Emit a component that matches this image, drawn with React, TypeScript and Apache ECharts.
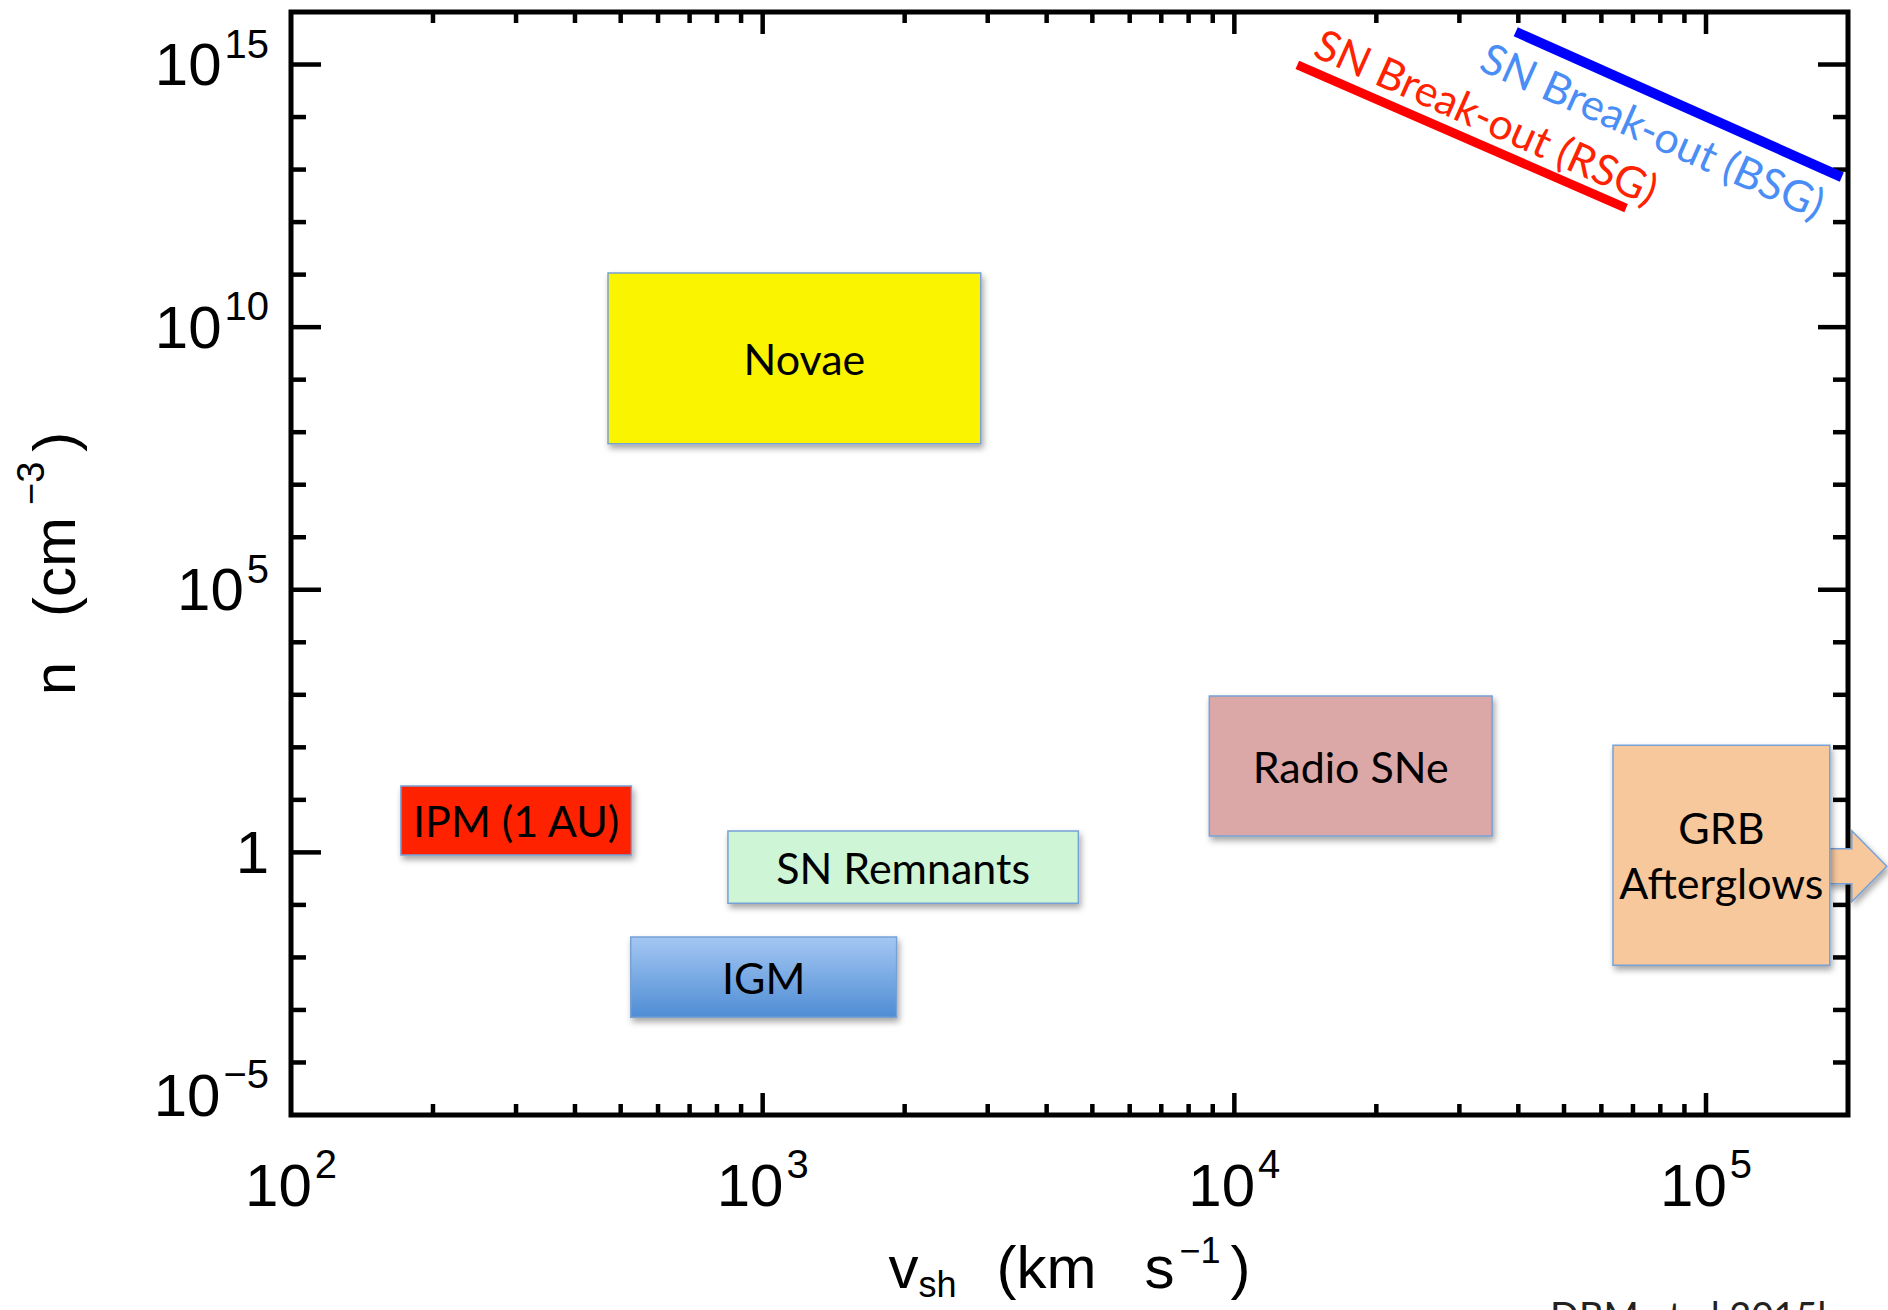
import React, { useEffect, useRef } from 'react';
import * as echarts from 'echarts';

// ---- Data ----
const boxNames = ['Novae', 'IPM (1 AU)', 'SN Remnants', 'IGM', 'Radio SNe', 'GRB\nAfterglows'];
const boxVelMin = [470, 171, 844, 525, 8850, 63500];
const boxVelMax = [2900, 527, 4670, 1923, 35200, 183000];
const boxDenMin = [6.0e7, 0.89, 0.108, 7.3e-4, 2.05, 7.1e-3];
const boxDenMax = [1.07e11, 18.3, 2.55, 0.0244, 946, 110];
const boxColors = ['#fbf400', '#ff2300', '#cdf5d6', '#74a9e6', '#dca7a7', '#f8c89d'];
const boxHasArrow = [false, false, false, false, false, true];

const rsgVel = [13600, 67700];
const rsgDen = [9.8e14, 1.85e12];
const bsgVel = [39500, 194000];
const bsgDen = [4.2e15, 7.2e12];

const lineLabels = ['SN Break-out (RSG)', 'SN Break-out (BSG)'];
const lineLabelVel = [34300, 77300];
const lineLabelDen = [1.05e14, 5.7e13];
const lineLabelColors = ['#ff2200', '#4a8df5'];

const xMin = 100;
const xMax = 200000;
const yMin = 1e-5;
const yMax = 1e16;

const xMajorTicks = [100, 1000, 10000, 100000];
const yMajorExps = [-5, 0, 5, 10, 15];
const minorMultipliers = [2, 3, 4, 5, 6, 7, 8, 9];

const creditText = 'DBM et al 2015b';

// tick positions
const xTicks: number[][] = [];
xMajorTicks.forEach((d) => {
  if (d > xMin) xTicks.push([d, 1, 1]);
  minorMultipliers.forEach((m) => {
    const v = d * m;
    if (v < xMax * 0.999) xTicks.push([v, 1, 0]);
  });
});
const yTicks: number[][] = [];
for (let e = -4; e <= 15; e++) {
  yTicks.push([1000, Math.pow(10, e), yMajorExps.indexOf(e) >= 0 ? 1 : 0]);
}

const NUM_FONT = 'Liberation Sans';
const BOX_FONT = 'Lato';

const fmtPow = (v: number, isY: boolean): string => {
  const lg = Math.log10(v);
  const e = Math.round(lg);
  if (Math.abs(lg - e) > 1e-6) return '';
  if (isY && e % 5 !== 0) return '';
  if (e === 0) return '{m|1}';
  const es = e < 0 ? '\u2212' + -e : String(e);
  if (isY && e === -5) return '{m|10}{s|' + es + '}\n{g| }';
  return '{m|10}{s|' + es + '}';
};

const labelRich = {
  m: { fontFamily: NUM_FONT, fontSize: 60, lineHeight: 82, color: '#000' },
  s: { fontFamily: NUM_FONT, fontSize: 40, lineHeight: 40, verticalAlign: 'top', padding: [0, 0, 0, 3], color: '#000' },
  g: { fontFamily: NUM_FONT, fontSize: 10, lineHeight: 40 },
};

export default function App() {
  const ref = useRef<HTMLDivElement>(null);
  useEffect(() => {
    if (!ref.current) return;
    const chart = echarts.init(ref.current, undefined, { renderer: 'svg' });
    const shadow = {
      shadowBlur: 6,
      shadowOffsetX: 2,
      shadowOffsetY: 4,
      shadowColor: 'rgba(0,0,0,0.35)',
    };
    const big = { fontFamily: NUM_FONT, fontSize: 60, lineHeight: 70, color: '#000' };
    const option: any = {
      animation: false,
      backgroundColor: '#ffffff',
      grid: {
        show: true,
        left: 291,
        right: 40,
        top: 12,
        bottom: 195,
        borderColor: '#000',
        borderWidth: 5,
        backgroundColor: 'transparent',
      },
      xAxis: {
        type: 'log',
        logBase: 10,
        min: xMin,
        max: xMax,
        splitNumber: 3,
        axisLine: { show: false },
        axisTick: { show: false },
        splitLine: { show: false },
        axisLabel: {
          margin: 29,
          formatter: (v: number) => fmtPow(v, false),
          rich: labelRich,
        },
        name: '{m|v}{sub|sh}{p1|(km}{p2|s}{sup|\u22121}{p3|)}',
        nameLocation: 'middle',
        nameGap: 117,
        nameTextStyle: {
          rich: {
            m: big,
            p1: { ...big, padding: [0, 0, 0, 40] },
            p2: { ...big, padding: [0, 0, 0, 48] },
            p3: { ...big, padding: [0, 0, 0, 10] },
            sub: { fontFamily: NUM_FONT, fontSize: 36, lineHeight: 22, verticalAlign: 'bottom', color: '#000' },
            sup: { fontFamily: NUM_FONT, fontSize: 36, lineHeight: 26, verticalAlign: 'top', padding: [0, 0, 0, 5], color: '#000' },
          },
        },
      },
      yAxis: {
        type: 'log',
        logBase: 10,
        min: yMin,
        max: yMax,
        interval: 5,
        axisLine: { show: false },
        axisTick: { show: false },
        splitLine: { show: false },
        axisLabel: {
          margin: 22,
          formatter: (v: number) => fmtPow(v, true),
          rich: labelRich,
        },
        name: '{m|n}{p1|(cm}{sup|\u22123}{p3|)}',
        nameLocation: 'middle',
        nameRotate: 90,
        nameGap: 195,
        nameTextStyle: {
          rich: {
            m: { ...big, lineHeight: 84 },
            p1: { ...big, lineHeight: 84, padding: [0, 0, 0, 45] },
            p3: { ...big, lineHeight: 84, padding: [0, 0, 0, 10] },
            sup: { fontFamily: NUM_FONT, fontSize: 38, lineHeight: 40, verticalAlign: 'top', padding: [0, 0, 0, 12], color: '#000' },
          },
        },
      },
      graphic: [
        {
          type: 'text',
          left: 1550,
          top: 1296,
          style: { text: creditText, fontFamily: BOX_FONT, fontSize: 38, fill: '#222' },
        },
      ],
      series: [
        {
          type: 'custom',
          name: 'xticks',
          z: 1,
          silent: true,
          data: xTicks,
          encode: { x: 0, y: 1 },
          renderItem: (params: any, api: any) => {
            const cs = params.coordSys;
            const px = api.coord([api.value(0), 1])[0];
            const len = api.value(2) ? 22 : 11;
            const top = cs.y;
            const bot = cs.y + cs.height;
            const st = { stroke: '#000', lineWidth: 4.5 };
            return {
              type: 'group',
              children: [
                { type: 'line', shape: { x1: px, y1: bot, x2: px, y2: bot - len }, style: st },
                { type: 'line', shape: { x1: px, y1: top, x2: px, y2: top + len }, style: st },
              ],
            };
          },
        },
        {
          type: 'custom',
          name: 'yticks',
          z: 1,
          silent: true,
          data: yTicks,
          encode: { x: 0, y: 1 },
          renderItem: (params: any, api: any) => {
            const cs = params.coordSys;
            const py = api.coord([1000, api.value(1)])[1];
            const len = api.value(2) ? 30 : 15;
            const left = cs.x;
            const right = cs.x + cs.width;
            const st = { stroke: '#000', lineWidth: 4.5 };
            return {
              type: 'group',
              children: [
                { type: 'line', shape: { x1: left, y1: py, x2: left + len, y2: py }, style: st },
                { type: 'line', shape: { x1: right, y1: py, x2: right - len, y2: py }, style: st },
              ],
            };
          },
        },
        {
          type: 'line',
          name: 'SN Break-out (RSG)',
          z: 2,
          clip: false,
          symbol: 'none',
          data: rsgVel.map((v, i) => [v, rsgDen[i]]),
          lineStyle: { color: '#ff0000', width: 9, cap: 'butt' },
        },
        {
          type: 'line',
          name: 'SN Break-out (BSG)',
          z: 2,
          clip: false,
          symbol: 'none',
          data: bsgVel.map((v, i) => [v, bsgDen[i]]),
          lineStyle: { color: '#0000ff', width: 10, cap: 'butt' },
        },
        {
          type: 'custom',
          name: 'regions',
          z: 3,
          data: boxNames.map((n, i) => [boxVelMin[i], boxVelMax[i], boxDenMin[i], boxDenMax[i]]),
          encode: { x: [0, 1], y: [2, 3] },
          renderItem: (params: any, api: any) => {
            const i = params.dataIndex;
            const p0 = api.coord([api.value(0), api.value(3)]);
            const p1 = api.coord([api.value(1), api.value(2)]);
            const x = p0[0];
            const y = p0[1];
            const w = p1[0] - p0[0];
            const h = p1[1] - p0[1];
            const fill =
              i === 3
                ? new echarts.graphic.LinearGradient(0, 0, 0, 1, [
                    { offset: 0, color: '#a4c7f3' },
                    { offset: 1, color: '#4f8dd4' },
                  ])
                : boxColors[i];
            const children: any[] = [];
            if (boxHasArrow[i]) {
              const xr = x + w;
              const cy = y + h * 0.55;
              children.push({
                type: 'polygon',
                shape: {
                  points: [
                    [xr - 2, cy - 17.5],
                    [xr + 22, cy - 17.5],
                    [xr + 22, cy - 35.5],
                    [xr + 57, cy],
                    [xr + 22, cy + 35.5],
                    [xr + 22, cy + 17.5],
                    [xr - 2, cy + 17.5],
                  ],
                },
                style: { fill: boxColors[i], stroke: '#76a1d6', lineWidth: 1.5, ...shadow },
              });
            }
            children.push({
              type: 'rect',
              shape: { x, y, width: w, height: h },
              style: { fill, stroke: '#76a1d6', lineWidth: 1.5, ...shadow },
            });
            children.push({
              type: 'text',
              style: {
                text: boxNames[i],
                x: x + w / 2 + (i === 0 ? 10 : 0),
                y: y + h / 2,
                align: 'center',
                verticalAlign: 'middle',
                fontFamily: BOX_FONT,
                fontSize: 43,
                lineHeight: 55,
                fill: '#000',
              },
            });
            return { type: 'group', children };
          },
        },
        {
          type: 'custom',
          name: 'line labels',
          z: 4,
          silent: true,
          data: lineLabels.map((t, i) => [lineLabelVel[i], lineLabelDen[i]]),
          encode: { x: 0, y: 1 },
          renderItem: (params: any, api: any) => {
            const i = params.dataIndex;
            const p = api.coord([api.value(0), api.value(1)]);
            return {
              type: 'text',
              x: p[0],
              y: p[1],
              rotation: (-24 * Math.PI) / 180,
              style: {
                text: lineLabels[i],
                x: 0,
                y: 0,
                align: 'center',
                verticalAlign: 'middle',
                fontFamily: BOX_FONT,
                fontSize: 43,
                fill: lineLabelColors[i],
              },
            };
          },
        },
      ],
    };
    chart.setOption(option);
    return () => {
      chart.dispose();
    };
  }, []);
  return (
    <div
      ref={ref}
      style={{ position: 'absolute', left: 0, top: 0, width: 1888, height: 1310 }}
    />
  );
}
